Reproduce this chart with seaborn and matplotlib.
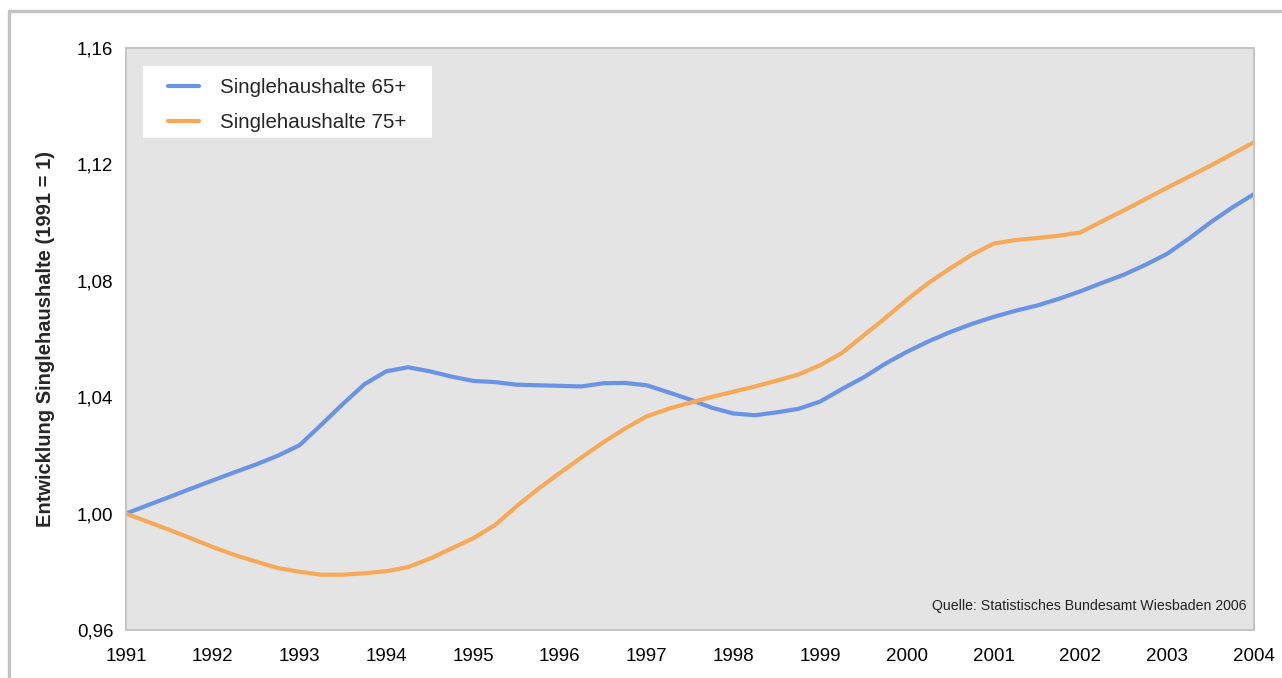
import numpy as np
import pandas as pd
import matplotlib
matplotlib.use("Agg")
import matplotlib.pyplot as plt
from matplotlib.patches import Rectangle
from matplotlib.lines import Line2D
import seaborn as sns

# Quarterly index values, 1991 = 1
years = [1991 + q / 4 for q in range(53)]
single_65 = [
    1.0000, 1.0029, 1.0057, 1.0086, 1.0114, 1.0142, 1.0169, 1.0199,
    1.0235, 1.0305, 1.0377, 1.0445, 1.0489, 1.0503, 1.0489, 1.0471,
    1.0456, 1.0452, 1.0443, 1.0441, 1.0439, 1.0437, 1.0448, 1.0449,
    1.0441, 1.0417, 1.0392, 1.0364, 1.0344, 1.0338, 1.0348, 1.0360,
    1.0385, 1.0428, 1.0468, 1.0515, 1.0556, 1.0592, 1.0624, 1.0652,
    1.0676, 1.0697, 1.0715, 1.0738, 1.0764, 1.0793, 1.0821, 1.0855,
    1.0893, 1.0945, 1.1001, 1.1052, 1.1098,
]
single_75 = [
    1.0000, 0.9972, 0.9944, 0.9915, 0.9885, 0.9858, 0.9835, 0.9813,
    0.9800, 0.9790, 0.9790, 0.9795, 0.9802, 0.9816, 0.9845, 0.9880,
    0.9915, 0.9960, 1.0025, 1.0085, 1.0140, 1.0193, 1.0245, 1.0292,
    1.0334, 1.0360, 1.0381, 1.0401, 1.0419, 1.0437, 1.0457, 1.0478,
    1.0510, 1.0552, 1.0612, 1.0672, 1.0735, 1.0793, 1.0843, 1.0890,
    1.0928, 1.0940, 1.0947, 1.0955, 1.0966, 1.1005, 1.1042, 1.1081,
    1.1120, 1.1158, 1.1196, 1.1236, 1.1276,
]
series_names = ["Singlehaushalte 65+", "Singlehaushalte 75+"]
x_ticks = list(range(1991, 2005))
y_ticks = [0.96, 1.00, 1.04, 1.08, 1.12, 1.16]
y_tick_labels = ["0,96", "1,00", "1,04", "1,08", "1,12", "1,16"]
source_note = "Quelle: Statistisches Bundesamt Wiesbaden 2006"
y_title = "Entwicklung Singlehaushalte (1991 = 1)"

df = pd.DataFrame({
    "Jahr": years * 2,
    "Wert": single_65 + single_75,
    "Reihe": [series_names[0]] * len(years) + [series_names[1]] * len(years),
})

sns.set_theme(style="white")
plt.rcParams["font.family"] = ["Liberation Sans", "DejaVu Sans"]

W, H = 1282, 678
fig = plt.figure(figsize=(W / 100, H / 100), dpi=100)
fig.patch.set_facecolor("white")

# outer frame: left and top edges only
frame_col = "#c2c2c2"
fig.add_artist(Line2D([9 / W, 9 / W], [0, 1 - 11 / H], transform=fig.transFigure,
                      color=frame_col, linewidth=2.4))
fig.add_artist(Line2D([9 / W, 1], [1 - 11 / H, 1 - 11 / H], transform=fig.transFigure,
                      color=frame_col, linewidth=2.4))

ax = fig.add_axes([126 / W, 1 - 630 / H, (1254 - 126) / W, (630 - 48) / H])
ax.set_facecolor("#e4e4e4")

palette = {series_names[0]: "#6a93e8", series_names[1]: "#f8a957"}
sns.lineplot(data=df, x="Jahr", y="Wert", hue="Reihe", palette=palette,
             linewidth=3.0, ax=ax, legend=True)

ax.set_xlim(1991, 2004)
ax.set_ylim(0.96, 1.16)
ax.set_xticks(x_ticks)
ax.set_xticklabels([str(y) for y in x_ticks])
ax.set_yticks(y_ticks)
ax.set_yticklabels(y_tick_labels)
ax.tick_params(axis="both", which="major", labelsize=13.5, colors="#d2d2d2",
               labelcolor="black", length=7, width=1, direction="out")
ax.tick_params(axis="x", pad=6)
ax.tick_params(axis="y", pad=2)
ax.set_xlabel("")
ax.set_ylabel(y_title, fontsize=14.5, fontweight="bold", labelpad=16)

for side in ["left", "right", "top", "bottom"]:
    ax.spines[side].set_visible(True)
    ax.spines[side].set_color("#c4c4c4")
    ax.spines[side].set_linewidth(1.4)

# white legend panel
ax_w = 1254 - 126
ax_h = 630 - 48
ax.add_patch(Rectangle(((143 - 126) / ax_w, (630 - 138) / ax_h),
                       (432 - 143) / ax_w, (138 - 66) / ax_h,
                       transform=ax.transAxes, facecolor="white",
                       edgecolor="none", zorder=4))

leg = ax.legend(loc="upper left", bbox_to_anchor=((168 - 126) / ax_w, (630 - 78) / ax_h),
                frameon=False, fontsize=14.8, handlelength=1.5,
                handletextpad=1.05, borderpad=0, labelspacing=0.78,
                borderaxespad=0)
leg.set_zorder(5)
for line in leg.get_lines():
    line.set_linewidth(3.0)

ax.text(0.9935, 0.03, source_note, transform=ax.transAxes, ha="right",
        va="bottom", fontsize=10.2, color="#222222")

fig.savefig("out.png", dpi=100)
